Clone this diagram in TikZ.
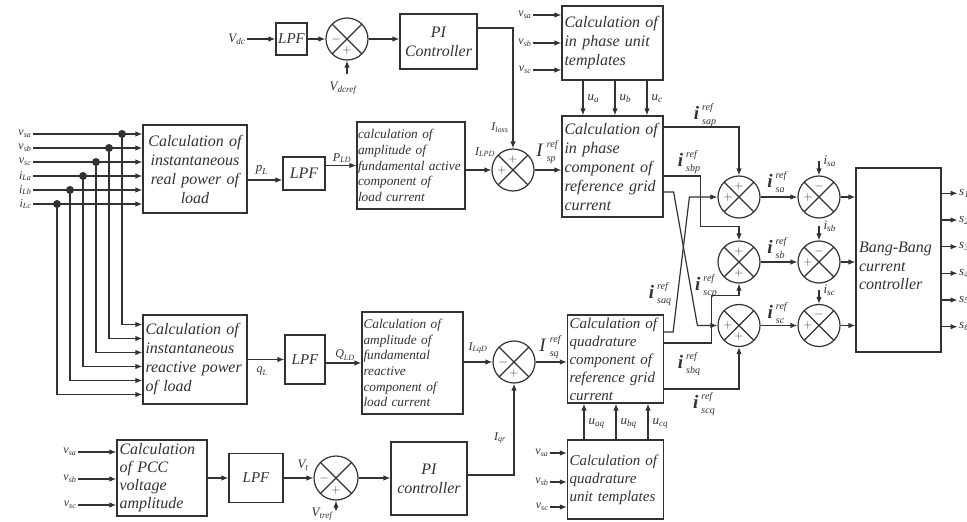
\documentclass[tikz,border=0pt]{standalone}
\usepackage{fontspec}
\usepackage{amsmath}
\setmainfont{Liberation Serif}
\usetikzlibrary{arrows.meta}
\definecolor{ink}{RGB}{50,50,50}
\hyphenpenalty=10000
\exhyphenpenalty=10000
\newcommand{\sv}[2]{$\textit{#1}_{\textit{#2}}$}
\newcommand{\smx}[1]{{\fontsize{10}{10}\selectfont\itshape #1}}
\newcommand{\ir}[1]{\textbf{\textit{i}}\kern3pt\rlap{\raisebox{9.5pt}{\smx{ref}}}\raisebox{-4.5pt}{\smx{#1}}}
\newcommand{\Ir}[1]{\textit{I}\kern3.5pt\rlap{\raisebox{9.5pt}{\smx{ref}}}\raisebox{-4.5pt}{\smx{#1}}}
\begin{document}
\begin{tikzpicture}[x=1pt,y=-1pt,color=ink,line width=1.2pt,
  >={Latex[length=7pt,width=5.5pt]},
  bx/.style n args={3}{draw,rectangle,inner sep=2pt,minimum width=#1,minimum height=#2,text width=#3,align=left,font=\fontsize{16}{19}\selectfont\itshape},
  sbx/.style n args={3}{draw,rectangle,inner sep=1pt,minimum width=#1,minimum height=#2,text width=#3,align=left,font=\fontsize{13.3}{15.6}\selectfont\itshape},
  lpf/.style 2 args={draw,rectangle,inner sep=1pt,minimum width=#1,minimum height=#2,font=\fontsize{15}{17}\selectfont\itshape},
  sumc/.style={draw,circle,minimum size=42pt,inner sep=0pt,
    path picture={\draw[line width=1.2pt] (path picture bounding box.north west)--(path picture bounding box.south east)
      (path picture bounding box.north east)--(path picture bounding box.south west);}},
  sgn/.style={font=\fontsize{13}{13}\selectfont,inner sep=0pt},
  sl/.style={font=\fontsize{12}{12}\selectfont,inner sep=1pt},
  ml/.style={font=\fontsize{13}{13}\selectfont,inner sep=1pt},
  bl/.style={font=\fontsize{19}{20}\selectfont,inner sep=1pt},
  dot/.style={circle,fill=ink,minimum size=8pt,inner sep=0pt},
]
\useasboundingbox (0,0) rectangle (967,522);

% ---------- DC link loop ----------
\node[ml] (vdc) at (237,39) {\sv{V}{dc}};
\node[lpf={31pt}{32pt}] (lpf0) at (291.5,39) {LPF};
\node[sumc] (sum0) at (347,39) {};
\node[sgn,xshift=-11pt] (sum0m) at (sum0) {$-$};
\node[sgn,yshift=-11pt] (sum0p) at (sum0) {$+$};
\node[ml] (vdcref) at (343,88) {\sv{V}{dcref}};
\node[draw,rectangle,minimum width=77pt,minimum height=55pt,align=center,font=\fontsize{16}{19}\selectfont\itshape] (pi1) at (438.5,41.5) {PI\\Controller};
\draw[->] (vdc.east) -- (lpf0.west);
\draw[->] (lpf0.east) -- (sum0.west);
\draw[->] ([yshift=-13pt]sum0.south) -- (sum0.south);
\draw[->] (sum0.east) -- (sum0.east -| pi1.west);

% ---------- in phase unit templates ----------
\node[bx={101pt}{74pt}{96pt}] (iput) at (612.5,43) {Calculation of\\in phase unit\\templates};
\foreach \n/\s/\y in {ia/sa/15, ib/sb/43, ic/sc/70}{
  \node[sl,anchor=east] (\n) at (533,\y) {\sv{v}{\s}};
  \draw[->] (\n.east) -- (\n.east -| iput.west);
}

% ---------- left measurement inputs ----------
\node[bx={104pt}{88pt}{99pt},align=center] (rp) at (195,169) {Calculation of\\instantaneous\\real power of\\load};
\node[bx={104pt}{89pt}{99pt}] (rq) at (195,359.5) {Calculation of\\instantaneous\\reactive power\\of load};
\foreach \n/\t/\s/\dx/\o in {vsa/v/sa/122/35, vsb/v/sb/109/21, vsc/v/sc/96/7, ila/i/La/83/-7, ilb/i/Lb/70/-21, ilc/i/Lc/57/-35}{
  \node[sl,anchor=east] (\n) at (33,{169-\o}) {\sv{\t}{\s}};
  \draw[->] (\n.east) -- (\n.east -| rp.west);
  \draw[->] (\dx,{169-\o}) |- ([yshift=\o pt]rq.west);
  \node[dot] (d\n) at (\dx,{169-\o}) {};
}

% ---------- active branch ----------
\node[lpf={42pt}{33pt},font=\fontsize{16}{18}\selectfont\itshape] (lpf1) at (304,173.5) {LPF};
\node[sbx={108pt}{87pt}{106pt}] (amp) at (411,165.5) {calculation of\\amplitude of\\fundamental active\\component of\\load current};
\node[sumc] (sump) at (513,170) {};
\node[sgn,yshift=11pt] (sumpa) at (sump) {$+$};
\node[sgn,xshift=-11pt] (sumpb) at (sump) {$+$};
\node[bx={101pt}{101pt}{96pt}] (phase) at (612.5,166.5) {Calculation of\\in phase\\component of\\reference grid\\current};
\node[ml] (pl) at (262,170) {\sv{p}{L}};
\node[sl] (pld) at (342,158) {\sv{P}{LD}};
\node[sl] (ilpd) at (485,152) {\sv{I}{LPD}};
\node[sl,anchor=east] (iloss) at (510,128) {\sv{I}{loss}};
\node[bl] (ispr) at (546,152) {\Ir{sp}};
\draw[->] ([yshift=-11pt]rp.east) -- ([yshift=-11pt]rp.east -| lpf1.west);
\draw[->] (lpf1.east |- amp.west) -- (amp.west);
\draw[->] (amp.east |- sump.west) -- (sump.west);
\draw[->] ([yshift=13.5pt]pi1.east) -| (sump.north);
\draw[->] (sump.east) -- (sump.east -| phase.west);
\foreach \dx/\n/\s in {-29.5/ua/a, 2.5/ub/b, 34.5/uc/c}{
  \draw[->] ([xshift=\dx pt]iput.south) -- ([xshift=\dx pt]iput.south |- phase.north);
  \node[ml,anchor=west] (\n) at ([xshift=\dx pt+3pt,yshift=-18pt]iput.south) {\sv{u}{\s}};
}

% ---------- reactive branch ----------
\node[lpf={40pt}{49pt}] (lpf2) at (305,359.5) {LPF};
\node[sbx={101pt}{102pt}{98pt}] (ramp) at (412.5,363) {Calculation of\\amplitude of\\fundamental\\reactive\\component of\\load current};
\node[sumc] (sumq) at (514,362) {};
\node[sgn,xshift=-11pt] (sumqa) at (sumq) {$-$};
\node[sgn,yshift=-11pt] (sumqb) at (sumq) {$+$};
\node[bx={95pt}{88pt}{92pt},font=\fontsize{15}{18}\selectfont\itshape] (qb) at (615.5,359) {Calculation of\\quadrature\\component of\\reference grid\\current};
\node[sl] (ql) at (262,371) {\sv{q}{L}};
\node[sl] (qld) at (345,355) {\sv{Q}{LD}};
\node[sl] (ilqd) at (478,348) {\sv{I}{LqD}};
\node[bl] (isqr) at (549,347) {\Ir{sq}};
\draw[->] (rq.east) -- (rq.east -| lpf2.west);
\draw[->] (lpf2.east |- ramp.west) -- (ramp.west);
\draw[->] (ramp.east |- sumq.west) -- (sumq.west);
\draw[->] (sumq.east) -- (sumq.east -| qb.west);

% ---------- PCC voltage loop ----------
\node[bx={90pt}{76pt}{85pt},font=\fontsize{16}{18}\selectfont\itshape] (pcc) at (162,478) {Calculation\\of PCC\\voltage\\amplitude};
\foreach \n/\s/\y in {pa/sa/452, pb/sb/479, pc/sc/505}{
  \node[sl,anchor=east] (\n) at (78,\y) {\sv{v}{\s}};
  \draw[->] (\n.east) -- (\n.east -| pcc.west);
}
\node[lpf={54pt}{49pt}] (lpf3) at (256,478) {LPF};
\node[sumc,minimum size=44pt] (sumv) at (336,478) {};
\node[sgn,xshift=-12pt] (sumva) at (sumv) {$-$};
\node[sgn,yshift=-12pt] (sumvb) at (sumv) {$+$};
\node[draw,rectangle,minimum width=76pt,minimum height=73pt,align=center,font=\fontsize{16}{19}\selectfont\itshape] (pi2) at (429,478.5) {PI\\controller};
\node[ml] (vt) at (303,465) {\sv{V}{t}};
\node[ml] (vtref) at (322,514) {\sv{V}{tref}};
\node[sl] (iqr) at (500,438) {\sv{I}{qr}};
\draw[->] (pcc.east) -- (lpf3.west);
\draw[->] (lpf3.east) -- (sumv.west);
\draw[->] ([yshift=-9pt]sumv.south) -- (sumv.south);
\draw[->] (sumv.east) -- (sumv.east -| pi2.west);
\draw[->] ([yshift=3.5pt]pi2.east) -| (sumq.south);

% ---------- quadrature unit templates ----------
\node[bx={95pt}{79pt}{92pt},font=\fontsize{15}{18}\selectfont\itshape] (qut) at (615.5,479.5) {Calculation of\\quadrature\\unit templates\\[6pt]};
\foreach \n/\s/\y in {qa/sa/453, qbb/sb/482, qc/sc/507}{
  \node[sl,anchor=east] (\n) at (550,\y) {\sv{v}{\s}};
  \draw[->] (\n.east) -- (\n.east -| qut.west);
}
\foreach \dx/\n/\s in {-31.5/uaq/aq, 0.5/ubq/bq, 32.5/ucq/cq}{
  \draw[->] ([xshift=\dx pt]qut.north) -- ([xshift=\dx pt]qut.north |- qb.south);
  \node[ml,anchor=west] (\n) at ([xshift=\dx pt+3pt,yshift=16pt]qut.north) {\sv{u}{\s}};
}

% ---------- summing of reference currents ----------
\node[sumc] (sa) at (739,197) {};
\node[sgn,yshift=11pt] (saa) at (sa) {$+$};
\node[sgn,xshift=-11pt] (sab) at (sa) {$+$};
\node[sumc] (sb) at (739,262) {};
\node[sgn,yshift=11pt] (sba) at (sb) {$+$};
\node[sgn,yshift=-11pt] (sbb) at (sb) {$+$};
\node[sumc] (sc) at (739,325.5) {};
\node[sgn,xshift=-11pt] (sca) at (sc) {$+$};
\node[sgn,yshift=-11pt] (scb) at (sc) {$+$};

\draw[->] ([yshift=39.5pt]phase.east) -| (sa.north);
\draw[->] ([yshift=-9.5pt]phase.east) -- ++(37,0) |- ([yshift=14pt]sb.north) -- (sb.north);
\draw[->] ([yshift=-25.5pt]phase.east) -- ++(10,0) -- ([xshift=-20pt]sc.west) -- (sc.west);
\draw[->] ([yshift=27pt]qb.east) -- ++(9,0) -- ([xshift=-28pt]sa.west) -- (sa.west);
\draw[->] ([yshift=16pt]qb.east) -- ++(47,0) |- ([yshift=-12pt]sb.south) -- (sb.south);
\draw[->] ([yshift=-30pt]qb.east) -| (sc.south);

\node[bl] (lsap) at (705,115) {\ir{sap}};
\node[bl] (lsbp) at (689,162) {\ir{sbp}};
\node[bl] (lscp) at (706,286) {\ir{scp}};
\node[bl] (lsaq) at (660,294) {\ir{saq}};
\node[bl] (lsbq) at (689,364) {\ir{sbq}};
\node[bl] (lscq) at (704,404) {\ir{scq}};

% ---------- error circles ----------
\node[sumc] (ea) at (819,197) {};
\node[sumc] (eb) at (819,262) {};
\node[sumc] (ec) at (819,325.5) {};
\foreach \e/\s in {ea/sa, eb/sb, ec/sc}{
  \node[sgn,yshift=11pt] (\e m) at (\e) {$-$};
  \node[sgn,xshift=-11pt] (\e p) at (\e) {$+$};
  \draw[->] ([yshift=14pt]\e.north) -- (\e.north);
  \node[ml,anchor=west] (l\e) at ([xshift=3pt,yshift=14pt]\e.north) {\sv{i}{\s}};
}
\draw[->] (sa.east) -- (ea.west);
\draw[->] (sb.east) -- (eb.west);
\draw[->] (sc.east) -- (ec.west);
\node[bl] (lsa) at (776,182) {\ir{sa}};
\node[bl] (lsb) at (776,248) {\ir{sb}};
\node[bl] (lsc) at (776,313) {\ir{sc}};

% ---------- Bang-Bang controller ----------
\node[draw,rectangle,minimum width=85pt,minimum height=184pt,inner sep=3pt,text width=79pt,align=left,font=\fontsize{16}{18.5}\selectfont\itshape] (bb) at (898.5,260) {\\[4pt]Bang-Bang\\current\\controller};
\draw[->] (ea.east) -- (ea.east -| bb.west);
\draw[->] (eb.east) -- (eb.east -| bb.west);
\draw[->] (ec.east) -- (ec.east -| bb.west);
\foreach \o/\k in {66.7/1, 40/2, 13.3/3, -13.3/4, -40/5, -66.7/6}{
  \draw[->] ([yshift=\o pt]bb.east) -- ++(16,0) node[ml,anchor=west,inner sep=1pt] (s\k) {\sv{s}{\k}};
}
\end{tikzpicture}
\end{document}
